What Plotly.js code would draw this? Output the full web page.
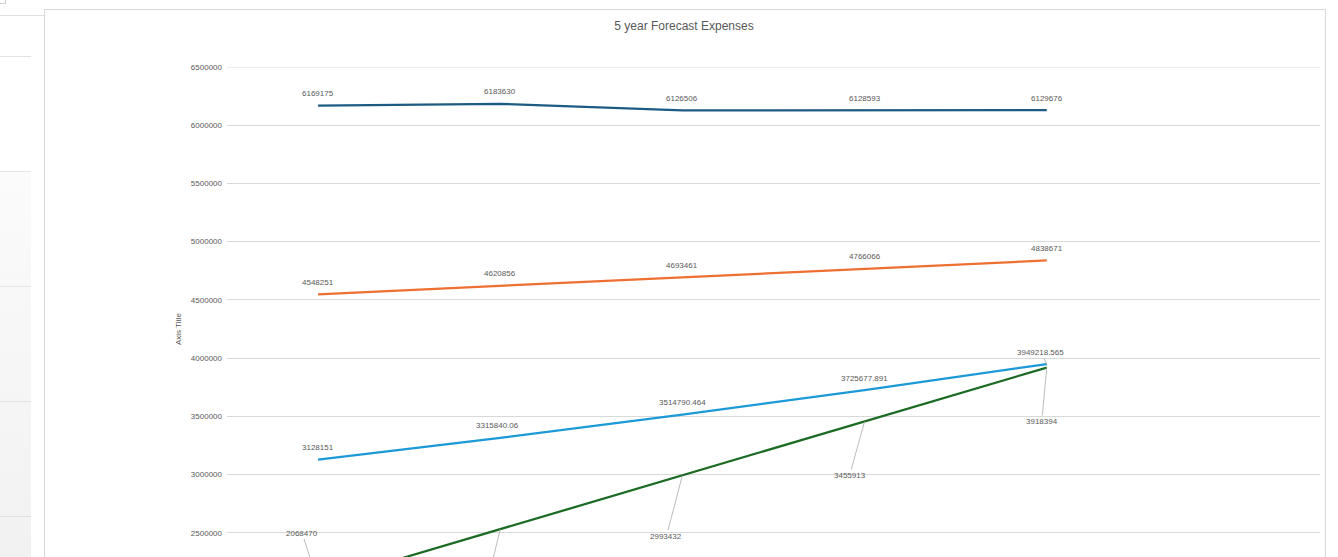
<!DOCTYPE html>
<html>
<head>
<meta charset="utf-8">
<script src="https://cdn.plot.ly/plotly-3.0.1.min.js"></script>
<style>
  html, body { margin:0; padding:0; width:1338px; height:557px; overflow:hidden; background:#ffffff; }
  .abs { position:absolute; }
  #chart { position:absolute; left:0; top:0; width:1338px; height:650px; }
</style>
</head>
<body>
<!-- spreadsheet chrome on the left -->
<div class="abs" style="left:0;top:3px;width:5px;height:1px;background:#d0d0d0"></div>
<div class="abs" style="left:5px;top:0;width:1px;height:4px;background:#d0d0d0"></div>
<div class="abs" style="left:0;top:15px;width:44px;height:1px;background:#e0e0e0"></div>
<div class="abs" style="left:0;top:56px;width:31px;height:1px;background:#e3e3e3"></div>
<div class="abs" style="left:0;top:172px;width:31px;height:400px;background:linear-gradient(#fbfbfb,#f1f1f1)"></div>
<div class="abs" style="left:0;top:171px;width:31px;height:1px;background:#e6e6e6"></div>
<div class="abs" style="left:0;top:286px;width:31px;height:1px;background:#e6e6e6"></div>
<div class="abs" style="left:0;top:401px;width:31px;height:1px;background:#e3e3e3"></div>
<div class="abs" style="left:0;top:516px;width:31px;height:1px;background:#dedede"></div>
<!-- chart frame -->
<div class="abs" style="left:44px;top:9px;width:1280px;height:600px;border:1px solid #d9d9d9;background:#ffffff"></div>
<div id="chart"></div>
<script>
// ---- data ----
const categories = ["Year 1", "Year 2", "Year 3", "Year 4", "Year 5"];
const seriesNames = ["Expenses A", "Expenses B", "Expenses C", "Expenses D"];
const darkBlueValues = [6169175, 6183630, 6126506, 6128593, 6129676];
const orangeValues = [4548251, 4620856, 4693461, 4766066, 4838671];
const lightBlueValues = [3128151, 3315840.06, 3514790.464, 3725677.891, 3949218.565];
const greenValues = [2068470, 2530951, 2993432, 3455913, 3918394];
const yTickValues = [2000000, 2500000, 3000000, 3500000, 4000000, 4500000, 5000000, 5500000, 6000000, 6500000];
const chartTitle = "5 year Forecast Expenses";
const yAxisTitle = "Axis Title";

// ---- styles ----
const colors = ["#1d5b82", "#ed7032", "#1b9ad7", "#1c6b24"];
const labelFont = {family: "Liberation Sans, Arial, sans-serif", size: 8, color: "#595959"};

const allSeries = [darkBlueValues, orangeValues, lightBlueValues, greenValues];
const traces = allSeries.map((vals, i) => ({
  type: "scatter",
  mode: "lines",
  name: seriesNames[i],
  x: categories,
  y: vals,
  line: {color: colors[i], width: 2.25},
  hoverinfo: "x+y"
}));

function fmt(v) { return String(v); }

const annotations = [];
[darkBlueValues, orangeValues, lightBlueValues].forEach((vals, si) => {
  vals.forEach((v, i) => {
    if (si === 2 && i === 4) return;
    annotations.push({
      x: i, y: v, xref: "x", yref: "y",
      text: fmt(v), showarrow: false, yshift: 12,
      xshift: (si === 2 && i === 1) ? -3 : 0,
      font: labelFont
    });
  });
});
annotations.push({
  x: 4, y: lightBlueValues[4], xref: "x", yref: "y",
  text: fmt(lightBlueValues[4]), showarrow: true, arrowhead: 0,
  arrowwidth: 0.75, arrowcolor: "#a6a6a6", ax: -6, ay: -12, standoff: 0,
  font: labelFont
});
const greenOffsets = [[-16, -50], [-15, 62], [-16, 61], [-15, 54], [-5, 54]];
greenValues.forEach((v, i) => {
  annotations.push({
    x: i, y: v, xref: "x", yref: "y",
    text: fmt(v), showarrow: true, arrowhead: 0,
    arrowwidth: 0.75, arrowcolor: "#a6a6a6",
    ax: greenOffsets[i][0], ay: greenOffsets[i][1], standoff: 0,
    font: labelFont
  });
});
annotations.push({
  xref: "paper", yref: "paper", x: (178 - 227) / 1093, y: 0.5,
  text: yAxisTitle, showarrow: false, textangle: -90,
  font: {family: "Liberation Sans, Arial, sans-serif", size: 8, color: "#595959"},
  xanchor: "center", yanchor: "middle"
});

const layout = {
  width: 1338, height: 650,
  margin: {l: 227, r: 18, t: 67, b: 59, pad: 0},
  paper_bgcolor: "rgba(0,0,0,0)",
  plot_bgcolor: "rgba(0,0,0,0)",
  showlegend: false,
  title: {
    text: chartTitle,
    font: {family: "Liberation Sans, Arial, sans-serif", size: 12, color: "#595959"},
    x: 684 / 1338, xref: "container", xanchor: "center",
    y: 1 - 26 / 650, yref: "container", yanchor: "middle"
  },
  xaxis: {
    type: "category",
    range: [-0.5, 5.5],
    showgrid: false,
    showline: true, linecolor: "#d9d9d9",
    ticks: "",
    tickfont: labelFont,
    zeroline: false
  },
  yaxis: {
    range: [2000000, 6500000],
    tickvals: yTickValues,
    ticktext: yTickValues.map(String),
    showgrid: true, gridcolor: "#d9d9d9", gridwidth: 1,
    showline: false, zeroline: false,
    ticks: "",
    ticklabelstandoff: 4,
    tickfont: labelFont
  },
  shapes: [{
    type: "line", xref: "paper", yref: "y", x0: 0, x1: 1,
    y0: yTickValues[yTickValues.length - 1], y1: yTickValues[yTickValues.length - 1],
    line: {color: "#d9d9d9", width: 1}, layer: "below"
  }],
  annotations: annotations
};

Plotly.newPlot("chart", traces, layout, {displayModeBar: false, staticPlot: true});
</script>
</body>
</html>
